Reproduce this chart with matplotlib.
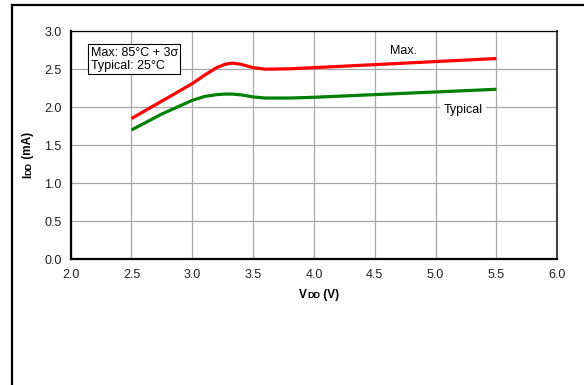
import numpy as np
import matplotlib
matplotlib.use('Agg')
import matplotlib.pyplot as plt
from matplotlib.lines import Line2D

plt.rcParams['font.family'] = ['Liberation Sans', 'DejaVu Sans']

# supply voltage (V)
vdd = [2.5, 2.75, 3.0, 3.1, 3.2, 3.27, 3.33, 3.4, 3.5, 3.6, 3.8, 4.0, 4.5, 5.0, 5.5]
# supply current (mA)
idd_max = [1.85, 2.08, 2.31, 2.42, 2.52, 2.565, 2.58, 2.565, 2.52, 2.50, 2.505, 2.52, 2.56, 2.60, 2.64]
idd_typ = [1.70, 1.91, 2.09, 2.14, 2.165, 2.172, 2.172, 2.162, 2.135, 2.12, 2.12, 2.13, 2.165, 2.20, 2.235]

xticks = [2.0, 2.5, 3.0, 3.5, 4.0, 4.5, 5.0, 5.5, 6.0]
yticks = [0.0, 0.5, 1.0, 1.5, 2.0, 2.5, 3.0]

fig = plt.figure(figsize=(5.84, 3.85), dpi=100)
ax = fig.add_axes([0.121, 0.327, 0.833, 0.592])

ax.plot(vdd, idd_max, color='#ff0000', lw=2.3, solid_capstyle='butt',
        solid_joinstyle='round', zorder=3)
ax.plot(vdd, idd_typ, color='#008000', lw=2.3, solid_capstyle='butt',
        solid_joinstyle='round', zorder=3)

ax.set_xlim(2.0, 6.0)
ax.set_ylim(0.0, 3.0)
ax.set_xticks(xticks)
ax.set_yticks(yticks)
ax.set_xticklabels(['%.1f' % t for t in xticks])
ax.set_yticklabels(['%.1f' % t for t in yticks])
ax.tick_params(length=0, labelsize=9, colors='#222222')
ax.tick_params(axis='x', pad=7)
ax.tick_params(axis='y', pad=6.5)
ax.grid(True, color='#a8a8a8', lw=0.9)
ax.set_axisbelow(True)

ax.spines['left'].set_linewidth(1.6)
ax.spines['bottom'].set_linewidth(1.6)
ax.spines['top'].set_linewidth(0.9)
ax.spines['right'].set_linewidth(1.5)
ax.spines['right'].set_color('#444444')

ax.text(0.041, 0.932, 'Max: 85°C + 3σ\nTypical: 25°C', transform=ax.transAxes,
        fontsize=9, va='top', ha='left', linespacing=1.1,
        bbox=dict(boxstyle='square,pad=0.2', fc='white', ec='black', lw=0.8))
ax.text(4.733, 2.74, 'Max.', fontsize=9, ha='center', va='center')
ax.text(5.226, 1.963, 'Typical', fontsize=9, ha='center', va='center',
        bbox=dict(boxstyle='square,pad=0.3', fc='white', ec='none'))

# x label: V with small DD
t1 = fig.text(299 / 584, 1 - 298 / 385, 'V', fontsize=8.5, fontweight='bold',
              ha='left', va='baseline')
t2 = ax.annotate('DD', xy=(1, 0), xycoords=t1, xytext=(0, 0.6),
                 textcoords='offset points', fontsize=6.5, fontweight='bold',
                 ha='left', va='bottom')
ax.annotate(' (V)', xy=(1, 0), xycoords=t2, xytext=(0, -0.6),
            textcoords='offset points', fontsize=8.5, fontweight='bold',
            ha='left', va='bottom')

# y label: I with small DD, rotated
u1 = fig.text(34 / 584, 1 - 178 / 385, 'I', fontsize=8.5, fontweight='bold',
              rotation=90, ha='right', va='bottom')
u2 = ax.annotate('DD', xy=(1, 1), xycoords=u1, xytext=(-0.6, 0),
                 textcoords='offset points', fontsize=6.5, fontweight='bold',
                 rotation=90, ha='right', va='bottom')
ax.annotate(' (mA)', xy=(1, 1), xycoords=u2, xytext=(0.6, 0),
            textcoords='offset points', fontsize=8.5, fontweight='bold',
            rotation=90, ha='right', va='bottom')

# page frame (top and left edge)
fig.add_artist(Line2D([12 / 584, 583 / 584], [1 - 5 / 385, 1 - 5 / 385],
                      transform=fig.transFigure, color='black', lw=1.6))
fig.add_artist(Line2D([12 / 584, 12 / 584], [1 - 5 / 385, 0],
                      transform=fig.transFigure, color='black', lw=1.6))

fig.savefig('out.png', dpi=100)
